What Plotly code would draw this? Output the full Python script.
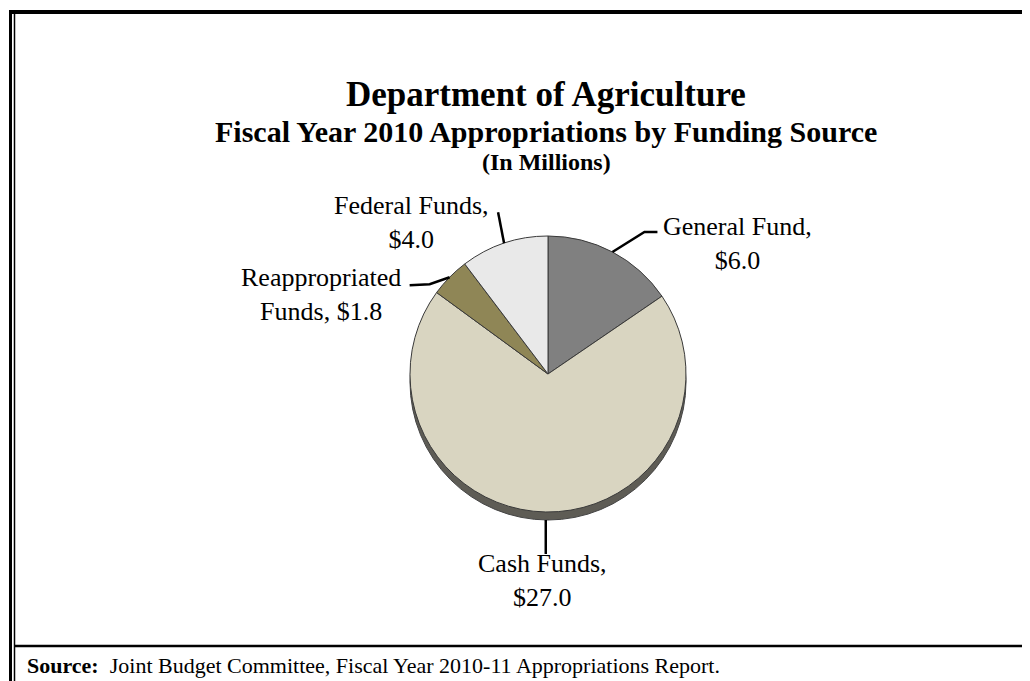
import numpy as np
import plotly.graph_objects as go

# ---------------- data ----------------
categories = ["General Fund", "Cash Funds", "Reappropriated Funds", "Federal Funds"]
values = [6.0, 27.0, 1.8, 4.0]
label_text = ["General Fund,<br>$6.0", "Cash Funds,<br>$27.0",
              "Reappropriated<br>Funds, $1.8", "Federal Funds,<br>$4.0"]
colors = ["#808080", "#D9D5C1", "#8F8656", "#E9E9E9"]

title_lines = ["Department of Agriculture",
               "Fiscal Year 2010 Appropriations by Funding Source",
               "(In Millions)"]
source_text = "<b>Source:</b>  Joint Budget Committee, Fiscal Year 2010-11 Appropriations Report."

# ---------------- layout helpers ----------------
OFF = 8                      # page body margin of the html page
W, H = 1030 - OFF, 681 - OFF
cx, cy, R = 548, 374, 138    # screen pixels
DEPTH = 8
FONT = "Times New Roman, Liberation Serif, serif"


def px(x):
    return (x - OFF) / W


def py(y):
    return 1 - (y - OFF) / H


fig = go.Figure(go.Pie(
    labels=categories, values=values, sort=False, direction="clockwise", rotation=0,
    marker=dict(colors=colors, line=dict(color="#3a3a3a", width=1)),
    textinfo="none", hoverinfo="label+value", showlegend=False,
    domain=dict(x=[px(cx - R), px(cx + R)], y=[py(cy + R), py(cy - R)]),
))

shapes = []
# 3-D rim under the pie
shapes.append(dict(type="circle", xref="paper", yref="paper", layer="below",
                   x0=px(cx - R), x1=px(cx + R), y0=py(cy + R + DEPTH), y1=py(cy - R + DEPTH),
                   fillcolor="#5e5c55", line=dict(color="#444", width=1)))

# leader lines computed from slice mid angles
total = sum(values)
cum = np.cumsum([0] + values)
mid_angles = [(cum[i] + values[i] / 2) / total * 2 * np.pi for i in range(len(values))]
# (elbow offset, end offset, extra start depth, text centre) in pixels - styling only
leader_style = [
    ((32, -20), (45, -20), 0, (737, 243)),
    ((0, 13), (0, 34), 8, (542, 580)),
    ((-20, 7), (-40, 8), 0, (321, 294)),
    ((-6, -31), (-6, -31), 0, (411, 222)),
]
annotations = []
for ang, (elb, end, d, tpos), txt in zip(mid_angles, leader_style, label_text):
    sx = cx + R * np.sin(ang)
    sy = cy - R * np.cos(ang) + d
    path = (f"M {px(sx)} {py(sy)} L {px(sx + elb[0])} {py(sy + elb[1])} "
            f"L {px(sx + end[0])} {py(sy + end[1])}")
    shapes.append(dict(type="path", xref="paper", yref="paper", path=path,
                       line=dict(color="black", width=2.5)))
    annotations.append(dict(x=px(tpos[0]), y=py(tpos[1]), xref="paper", yref="paper",
                            xanchor="center", yanchor="middle",
                            text=txt, showarrow=False, align="center",
                            font=dict(family=FONT, size=26, color="black")))

# titles
for txt, yy, sz in zip(title_lines, [94, 131, 162], [35, 30, 24]):
    annotations.append(dict(x=px(546), y=py(yy), xref="paper", yref="paper",
                            xanchor="center", yanchor="middle",
                            text=f"<b>{txt}</b>", showarrow=False,
                            font=dict(family=FONT, size=sz, color="black")))
# source
annotations.append(dict(x=px(25), y=py(665), xref="paper", yref="paper",
                        xanchor="left", yanchor="middle",
                        text=source_text, showarrow=False,
                        font=dict(family=FONT, size=22, color="black")))

# frame
shapes += [
    dict(type="line", xref="paper", yref="paper", x0=px(9), x1=px(1040), y0=py(12), y1=py(12),
         line=dict(color="black", width=4)),
    dict(type="line", xref="paper", yref="paper", x0=px(10.5), x1=px(10.5), y0=py(10), y1=py(690),
         line=dict(color="black", width=3)),
    dict(type="line", xref="paper", yref="paper", x0=px(14.5), x1=px(14.5), y0=py(13), y1=py(690),
         line=dict(color="black", width=1.5)),
    dict(type="line", xref="paper", yref="paper", x0=px(14.5), x1=px(1040), y0=py(646), y1=py(646),
         line=dict(color="black", width=2.5)),
]

fig.update_layout(width=W, height=H, margin=dict(l=0, r=0, t=0, b=0),
                  paper_bgcolor="white", plot_bgcolor="white",
                  shapes=shapes, annotations=annotations)
fig.write_html("out.html")
